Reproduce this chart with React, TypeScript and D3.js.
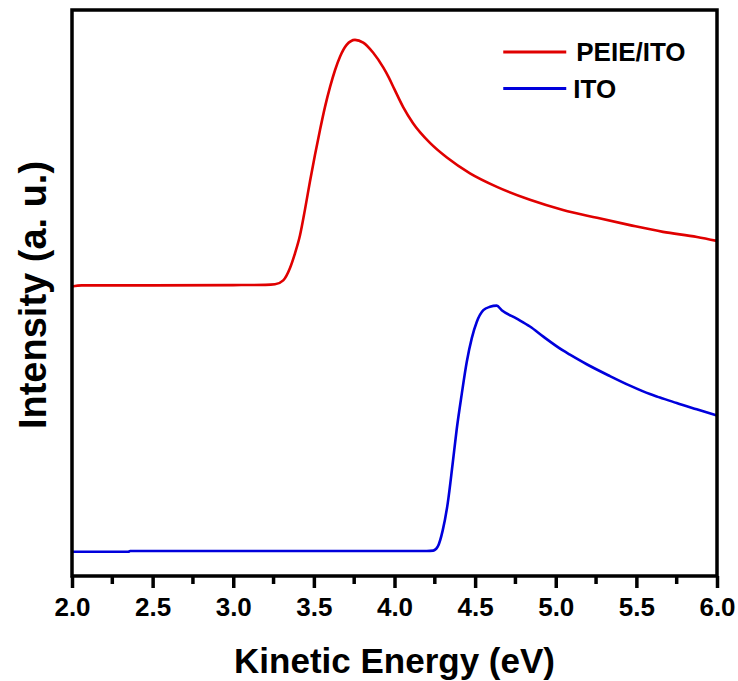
import { useEffect, useRef } from "react";
import * as d3 from "d3";

// kinetic energy (eV) / intensity (a.u.)
const peieEnergy = [2.0, 2.06, 2.5, 3.0, 3.2, 3.259, 3.31, 3.352, 3.383, 3.414, 3.445, 3.476, 3.507, 3.538, 3.569, 3.6, 3.631, 3.662, 3.703, 3.755, 3.806, 3.868, 3.93, 3.965, 4.0, 4.053, 4.115, 4.22, 4.325, 4.468, 4.635, 4.84, 5.045, 5.256, 5.46, 5.665, 5.876, 6.0];
const peieIntensity = [50.9, 51.1, 51.1, 51.15, 51.2, 51.3, 52.0, 54.2, 56.8, 60.0, 64.6, 69.6, 74.3, 78.7, 82.8, 86.3, 89.3, 91.7, 93.8, 94.7, 94.2, 92.4, 89.8, 88.0, 85.9, 82.8, 79.9, 76.4, 73.8, 71.0, 68.6, 66.3, 64.5, 63.1, 61.8, 60.6, 59.7, 59.0];

const itoEnergy = [2.0, 2.35, 2.36, 4.2, 4.24, 4.268, 4.299, 4.33, 4.36, 4.386, 4.417, 4.448, 4.479, 4.51, 4.551, 4.592, 4.634, 4.665, 4.758, 4.84, 4.923, 5.047, 5.088, 5.192, 5.336, 5.46, 5.584, 5.646, 5.75, 5.874, 6.0];
const itoIntensity = [3.8, 3.8, 3.95, 3.95, 4.0, 4.7, 7.6, 12.4, 19.3, 25.6, 31.8, 37.5, 41.7, 44.6, 46.7, 47.3, 47.5, 46.7, 45.2, 43.8, 42.0, 39.5, 38.8, 37.1, 35.0, 33.3, 31.8, 31.2, 30.2, 29.1, 28.0];

const seriesNames = ["PEIE/ITO", "ITO"];
const seriesColors = ["#e00000", "#0000dc"];
const xTicks = [2.0, 2.5, 3.0, 3.5, 4.0, 4.5, 5.0, 5.5, 6.0];
const xMinorTicks = [2.25, 2.75, 3.25, 3.75, 4.25, 4.75, 5.25, 5.75];

const W = 738, H = 681;
const margin = { top: 10, right: 21, bottom: 105, left: 72 };
const FONT = "'Liberation Sans', Arial, Helvetica, sans-serif";

export default function App() {
  const gRef = useRef<SVGGElement>(null);

  const width = W - margin.left - margin.right;
  const height = H - margin.top - margin.bottom;

  const x = d3.scaleLinear().domain([2, 6]).range([0, width]);
  const y = d3.scaleLinear().domain([-0.5, 100]).range([height, 0]);

  const series = [
    peieEnergy.map((e, i) => [e, peieIntensity[i]] as [number, number]),
    itoEnergy.map((e, i) => [e, itoIntensity[i]] as [number, number]),
  ];

  useEffect(() => {
    const g = d3.select(gRef.current);

    const line = d3.line<[number, number]>()
      .x(d => x(d[0]))
      .y(d => y(d[1]))
      .curve(d3.curveMonotoneX);

    g.selectAll("path.curve")
      .data(series)
      .join("path")
        .attr("class", "curve")
        .attr("fill", "none")
        .attr("stroke", (_, i) => seriesColors[i])
        .attr("stroke-width", 2.6)
        .attr("stroke-linejoin", "round")
        .attr("d", d => line(d));

    // x axis, major + minor ticks pointing out
    const xAxis = g.append("g").attr("transform", `translate(0, ${height})`);
    xAxis.call(d3.axisBottom(x).tickValues(xTicks).tickSize(12).tickPadding(10).tickFormat(d3.format(".1f")));
    xAxis.select(".domain").remove();
    xAxis.selectAll("line").attr("stroke", "#000").attr("stroke-width", 3.5);
    xAxis.selectAll("text")
      .attr("font-family", FONT)
      .attr("font-weight", "bold")
      .attr("font-size", 26)
      .attr("fill", "#000");

    g.append("g")
      .attr("transform", `translate(0, ${height})`)
      .selectAll("line")
      .data(xMinorTicks)
      .join("line")
        .attr("x1", d => x(d))
        .attr("x2", d => x(d))
        .attr("y1", 0)
        .attr("y2", 8)
        .attr("stroke", "#000")
        .attr("stroke-width", 3.5);

    // frame
    g.append("rect")
      .attr("width", width)
      .attr("height", height)
      .attr("fill", "none")
      .attr("stroke", "#000")
      .attr("stroke-width", 3.5);

    // legend
    const legend = g.append("g").attr("transform", `translate(${x(4.6) + 12}, 0)`);
    seriesNames.forEach((name, i) => {
      const yy = 42 + i * 36.5;
      legend.append("line")
        .attr("x1", 0).attr("x2", 63)
        .attr("y1", yy).attr("y2", yy)
        .attr("stroke", seriesColors[i])
        .attr("stroke-width", 3);
      legend.append("text")
        .attr("x", i === 0 ? 73 : 70)
        .attr("y", yy + 9)
        .attr("font-family", FONT)
        .attr("font-weight", "bold")
        .attr("font-size", 26)
        .text(name);
    });

    return () => { g.selectAll("*").remove(); };
  }, []);

  return (
    <svg width={W} height={H} style={{ position: "absolute", left: 0, top: 0, background: "#fff" }}>
      <g ref={gRef} transform={`translate(${margin.left}, ${margin.top})`}></g>
      <text
        transform={`translate(46, ${margin.top + height / 2 + 2}) rotate(-90)`}
        textAnchor="middle"
        fontFamily={FONT}
        fontWeight="bold"
        fontSize={38}
      >Intensity (a. u.)</text>
      <text
        x={margin.left + width / 2 + 0}
        y={673}
        textAnchor="middle"
        fontFamily={FONT}
        fontWeight="bold"
        fontSize={35}
      >Kinetic Energy (eV)</text>
    </svg>
  );
}
